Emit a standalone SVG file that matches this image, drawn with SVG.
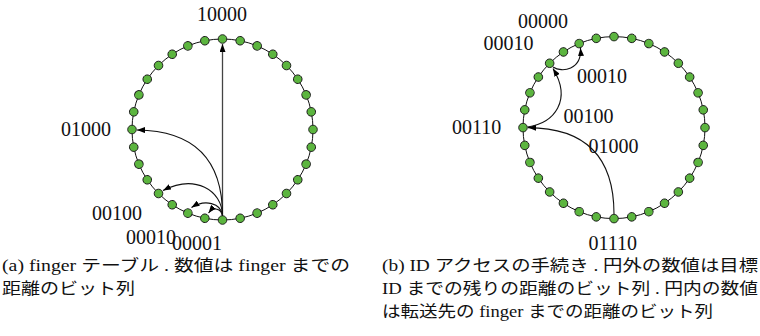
<svg xmlns="http://www.w3.org/2000/svg" xmlns:xlink="http://www.w3.org/1999/xlink" width="760" height="336" viewBox="0 0 760 336">
<style>
.ring{fill:none;stroke:#111;stroke-width:1}
.dot{fill:#5cb53f;stroke:#1a1a1a;stroke-width:0.9}
.edge{fill:none;stroke:#111;stroke-width:1.1;marker-end:url(#ah)}
.vedge{fill:none;stroke:#444;stroke-width:1.3;marker-end:url(#ah)}
.lbl{font-family:"Liberation Serif",serif;font-size:20px;fill:#111}
.cap{font-family:"Liberation Serif","Noto Sans CJK JP",serif;font-size:16px;fill:#111}
</style>
<defs>
<marker id="ah" viewBox="0 0 8 6" refX="8" refY="3" markerWidth="8" markerHeight="6" markerUnits="userSpaceOnUse" orient="auto"><path d="M0,0 L8,3 L0,6 z" fill="#000"/></marker>
<circle id="dotA" class="dot" cx="222.5" cy="39" r="4.3"/>
<circle id="dotB" class="dot" cx="614" cy="36.6" r="4.3"/>
</defs>

<g id="ring-a"><circle class="ring" cx="222.5" cy="129.5" r="90.5"/></g>
<g id="ring-b"><circle class="ring" cx="614" cy="127.6" r="91"/></g>

<g id="nodes-a">
<g id="a0"><use xlink:href="#dotA" transform="rotate(0 222.5 129.5)"/></g>
<g id="a1"><use xlink:href="#dotA" transform="rotate(11.25 222.5 129.5)"/></g>
<g id="a2"><use xlink:href="#dotA" transform="rotate(22.5 222.5 129.5)"/></g>
<g id="a3"><use xlink:href="#dotA" transform="rotate(33.75 222.5 129.5)"/></g>
<g id="a4"><use xlink:href="#dotA" transform="rotate(45 222.5 129.5)"/></g>
<g id="a5"><use xlink:href="#dotA" transform="rotate(56.25 222.5 129.5)"/></g>
<g id="a6"><use xlink:href="#dotA" transform="rotate(67.5 222.5 129.5)"/></g>
<g id="a7"><use xlink:href="#dotA" transform="rotate(78.75 222.5 129.5)"/></g>
<g id="a8"><use xlink:href="#dotA" transform="rotate(90 222.5 129.5)"/></g>
<g id="a9"><use xlink:href="#dotA" transform="rotate(101.25 222.5 129.5)"/></g>
<g id="a10"><use xlink:href="#dotA" transform="rotate(112.5 222.5 129.5)"/></g>
<g id="a11"><use xlink:href="#dotA" transform="rotate(123.75 222.5 129.5)"/></g>
<g id="a12"><use xlink:href="#dotA" transform="rotate(135 222.5 129.5)"/></g>
<g id="a13"><use xlink:href="#dotA" transform="rotate(146.25 222.5 129.5)"/></g>
<g id="a14"><use xlink:href="#dotA" transform="rotate(157.5 222.5 129.5)"/></g>
<g id="a15"><use xlink:href="#dotA" transform="rotate(168.75 222.5 129.5)"/></g>
<g id="a16"><use xlink:href="#dotA" transform="rotate(180 222.5 129.5)"/></g>
<g id="a17"><use xlink:href="#dotA" transform="rotate(191.25 222.5 129.5)"/></g>
<g id="a18"><use xlink:href="#dotA" transform="rotate(202.5 222.5 129.5)"/></g>
<g id="a19"><use xlink:href="#dotA" transform="rotate(213.75 222.5 129.5)"/></g>
<g id="a20"><use xlink:href="#dotA" transform="rotate(225 222.5 129.5)"/></g>
<g id="a21"><use xlink:href="#dotA" transform="rotate(236.25 222.5 129.5)"/></g>
<g id="a22"><use xlink:href="#dotA" transform="rotate(247.5 222.5 129.5)"/></g>
<g id="a23"><use xlink:href="#dotA" transform="rotate(258.75 222.5 129.5)"/></g>
<g id="a24"><use xlink:href="#dotA" transform="rotate(270 222.5 129.5)"/></g>
<g id="a25"><use xlink:href="#dotA" transform="rotate(281.25 222.5 129.5)"/></g>
<g id="a26"><use xlink:href="#dotA" transform="rotate(292.5 222.5 129.5)"/></g>
<g id="a27"><use xlink:href="#dotA" transform="rotate(303.75 222.5 129.5)"/></g>
<g id="a28"><use xlink:href="#dotA" transform="rotate(315 222.5 129.5)"/></g>
<g id="a29"><use xlink:href="#dotA" transform="rotate(326.25 222.5 129.5)"/></g>
<g id="a30"><use xlink:href="#dotA" transform="rotate(337.5 222.5 129.5)"/></g>
<g id="a31"><use xlink:href="#dotA" transform="rotate(348.75 222.5 129.5)"/></g>
</g>

<g id="nodes-b">
<g id="b0"><use xlink:href="#dotB" transform="rotate(0 614 127.6)"/></g>
<g id="b1"><use xlink:href="#dotB" transform="rotate(11.25 614 127.6)"/></g>
<g id="b2"><use xlink:href="#dotB" transform="rotate(22.5 614 127.6)"/></g>
<g id="b3"><use xlink:href="#dotB" transform="rotate(33.75 614 127.6)"/></g>
<g id="b4"><use xlink:href="#dotB" transform="rotate(45 614 127.6)"/></g>
<g id="b5"><use xlink:href="#dotB" transform="rotate(56.25 614 127.6)"/></g>
<g id="b6"><use xlink:href="#dotB" transform="rotate(67.5 614 127.6)"/></g>
<g id="b7"><use xlink:href="#dotB" transform="rotate(78.75 614 127.6)"/></g>
<g id="b8"><use xlink:href="#dotB" transform="rotate(90 614 127.6)"/></g>
<g id="b9"><use xlink:href="#dotB" transform="rotate(101.25 614 127.6)"/></g>
<g id="b10"><use xlink:href="#dotB" transform="rotate(112.5 614 127.6)"/></g>
<g id="b11"><use xlink:href="#dotB" transform="rotate(123.75 614 127.6)"/></g>
<g id="b12"><use xlink:href="#dotB" transform="rotate(135 614 127.6)"/></g>
<g id="b13"><use xlink:href="#dotB" transform="rotate(146.25 614 127.6)"/></g>
<g id="b14"><use xlink:href="#dotB" transform="rotate(157.5 614 127.6)"/></g>
<g id="b15"><use xlink:href="#dotB" transform="rotate(168.75 614 127.6)"/></g>
<g id="b16"><use xlink:href="#dotB" transform="rotate(180 614 127.6)"/></g>
<g id="b17"><use xlink:href="#dotB" transform="rotate(191.25 614 127.6)"/></g>
<g id="b18"><use xlink:href="#dotB" transform="rotate(202.5 614 127.6)"/></g>
<g id="b19"><use xlink:href="#dotB" transform="rotate(213.75 614 127.6)"/></g>
<g id="b20"><use xlink:href="#dotB" transform="rotate(225 614 127.6)"/></g>
<g id="b21"><use xlink:href="#dotB" transform="rotate(236.25 614 127.6)"/></g>
<g id="b22"><use xlink:href="#dotB" transform="rotate(247.5 614 127.6)"/></g>
<g id="b23"><use xlink:href="#dotB" transform="rotate(258.75 614 127.6)"/></g>
<g id="b24"><use xlink:href="#dotB" transform="rotate(270 614 127.6)"/></g>
<g id="b25"><use xlink:href="#dotB" transform="rotate(281.25 614 127.6)"/></g>
<g id="b26"><use xlink:href="#dotB" transform="rotate(292.5 614 127.6)"/></g>
<g id="b27"><use xlink:href="#dotB" transform="rotate(303.75 614 127.6)"/></g>
<g id="b28"><use xlink:href="#dotB" transform="rotate(315 614 127.6)"/></g>
<g id="b29"><use xlink:href="#dotB" transform="rotate(326.25 614 127.6)"/></g>
<g id="b30"><use xlink:href="#dotB" transform="rotate(337.5 614 127.6)"/></g>
<g id="b31"><use xlink:href="#dotB" transform="rotate(348.75 614 127.6)"/></g>
</g>

<g id="connectors">
<path class="vedge" d="M222.5,215.5 L222.5,44"/>
<path class="edge" d="M222.5,215.5 Q222.5,131 137,130"/>
<path class="edge" d="M222.5,215.5 C222,190 195,174 163,190.5"/>
<path class="edge" d="M222.5,215.5 C221,203 205,199 191.5,207.5"/>
<path class="edge" d="M222.5,215.5 C221,209 214,206 208.5,213"/>
<path class="edge" d="M614,214 Q614,128 528,127.6"/>
<path class="edge" d="M527.5,127 C555,123 572,100 553,68.5"/>
<path class="edge" d="M553,67 C562,73 582,70 580.5,48"/>
</g>

<g id="labels-a">
<text class="lbl" x="197" y="20.7">10000</text>
<text class="lbl" x="61" y="136">01000</text>
<text class="lbl" x="92" y="220">00100</text>
<text class="lbl" x="126" y="244">00010</text>
<text class="lbl" x="172" y="250">00001</text>
</g>
<g id="labels-b">
<text class="lbl" x="518" y="27.5">00000</text>
<text class="lbl" x="483.5" y="50">00010</text>
<text class="lbl" x="577" y="83">00010</text>
<text class="lbl" x="563.5" y="123">00100</text>
<text class="lbl" x="588.5" y="153">01000</text>
<text class="lbl" x="452" y="134">00110</text>
<text class="lbl" x="588.5" y="250">01110</text>
</g>

<g id="captions">
<text class="cap" x="2" y="271" textLength="348" lengthAdjust="spacingAndGlyphs">(a) finger テーブル . 数値は finger までの</text>
<text class="cap" x="2" y="294" textLength="133" lengthAdjust="spacingAndGlyphs">距離のビット列</text>
<text class="cap" x="382" y="271" textLength="376" lengthAdjust="spacingAndGlyphs">(b) ID アクセスの手続き . 円外の数値は目標</text>
<text class="cap" x="382" y="294" textLength="376" lengthAdjust="spacingAndGlyphs">ID までの残りの距離のビット列 . 円内の数値</text>
<text class="cap" x="382" y="317" textLength="331" lengthAdjust="spacingAndGlyphs">は転送先の finger までの距離のビット列</text>
</g>
</svg>
